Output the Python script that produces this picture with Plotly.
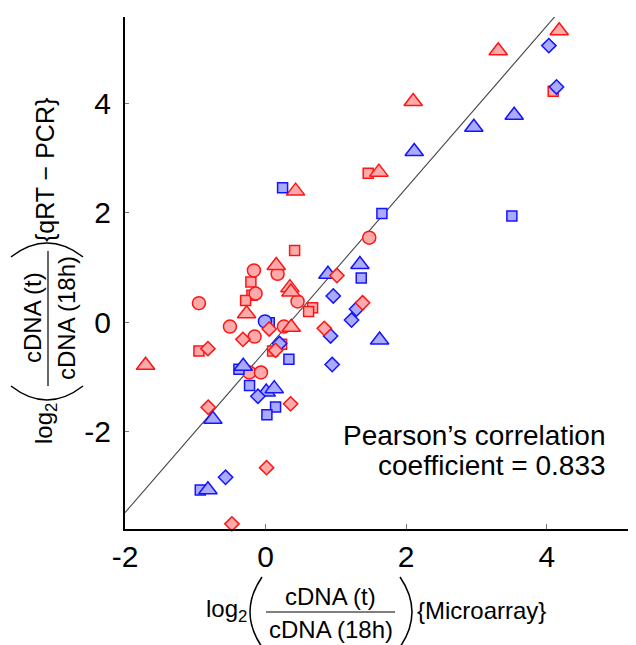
import plotly.graph_objects as go

# ---------------- data ----------------
red_tri_x = [4.177, 3.310, 2.100, 1.612, 0.427, 0.152, 0.346, 0.360, -0.270, 0.365, -1.707]
red_tri_y = [5.338, 4.972, 4.043, 2.748, 2.400, 1.036, 0.632, 0.550, 0.152, -0.095, -0.790]

red_circ_x = [1.475, -0.166, 0.171, -0.142, -0.948, 0.455, -0.507, -0.156, 0.261, -0.232, -0.066]
red_circ_y = [1.548, 0.948, 0.884, 0.524, 0.347, 0.379, -0.082, -0.265, -0.082, -0.922, -0.922]

red_sq_x = [4.092, 1.460, 0.413, -0.209, -0.194, -0.284, 0.669, 0.612, -0.948, 0.228, 0.100]
red_sq_y = [4.232, 2.729, 1.314, 0.733, 0.493, 0.398, 0.265, 0.196, -0.531, -0.404, -0.531]

red_dia_x = [1.015, 1.380, 0.835, 0.052, -0.322, -0.820, 0.142, -0.816, 0.356, 0.014, -0.479]
red_dia_y = [0.853, 0.354, -0.114, -0.126, -0.316, -0.486, -0.518, -1.560, -1.497, -2.666, -3.696]

blue_tri_x = [2.115, 2.963, 3.537, 1.342, 0.887, 1.622, -0.318, 0.009, 0.123, -0.749, -0.820]
blue_tri_y = [3.127, 3.569, 3.790, 1.055, 0.878, -0.328, -0.809, -1.282, -1.219, -1.781, -3.070]

blue_sq_x = [0.242, 1.655, 3.504, 1.361, 0.052, 0.332, -0.379, -0.228, 0.142, 0.019, -0.929]
blue_sq_y = [2.464, 1.990, 1.946, 0.809, -0.013, -0.682, -0.865, -1.162, -1.554, -1.699, -3.076]

blue_dia_x = [4.030, 4.139, 0.963, 1.294, 1.223, 0.925, 0.948, 0.199, -0.109, -0.569]
blue_dia_y = [5.066, 4.308, 0.480, 0.240, 0.038, -0.253, -0.777, -0.392, -1.358, -2.843]

blue_circ_x = [-0.009]
blue_circ_y = [0.013]

fit_slope = 1.486
fit_intercept = -0.518
fit_x_ends = [-2.0, 4.15]

x_ticks = [-2, 0, 2, 4]
x_tick_text = ["-2", "0", "2", "4"]
y_ticks = [-2, 0, 2, 4]
y_tick_text = ["-2", "0", "2", "4"]

x_range = [-2.0, 5.27]
y_range = [-3.79, 5.59]

# ---------------- styling ----------------
FONT = "Liberation Sans, Arial, Helvetica, sans-serif"
RED_EDGE = "rgb(255,20,20)"
RED_FILL = "rgb(255,170,170)"
BLUE_EDGE = "rgb(20,20,255)"
BLUE_FILL = "rgb(170,170,255)"

OFF = 8  # page body margin
W, H = 628, 637
PL, PT, PW, PH = 125 - OFF, 17 - OFF, 511, 512


def px(x):
    # screen pixel -> paper fraction
    return (x - OFF - PL) / PW


def py(y):
    return (PT + PH - (y - OFF)) / PH


fig = go.Figure()

fig.add_trace(go.Scatter(
    x=fit_x_ends,
    y=[fit_slope * v + fit_intercept for v in fit_x_ends],
    mode="lines", line=dict(color="rgb(70,70,70)", width=1.1),
    hoverinfo="skip", showlegend=False, cliponaxis=False))


def add(xs, ys, symbol, size, edge, fill):
    fig.add_trace(go.Scatter(
        x=xs, y=ys, mode="markers", showlegend=False, cliponaxis=False,
        marker=dict(symbol=symbol, size=size, color=fill,
                    line=dict(color=edge, width=1.5))))


add(red_sq_x, red_sq_y, "square", 10, RED_EDGE, RED_FILL)
add(red_circ_x, red_circ_y, "circle", 13, RED_EDGE, RED_FILL)
add(red_tri_x, red_tri_y, "triangle-up", 16, RED_EDGE, RED_FILL)
add(blue_sq_x, blue_sq_y, "square", 10, BLUE_EDGE, BLUE_FILL)
add(blue_circ_x, blue_circ_y, "circle", 13, BLUE_EDGE, BLUE_FILL)
add(blue_tri_x, blue_tri_y, "triangle-up", 16, BLUE_EDGE, BLUE_FILL)
add(blue_dia_x, blue_dia_y, "diamond", 11, BLUE_EDGE, BLUE_FILL)
add(red_dia_x, red_dia_y, "diamond", 11, RED_EDGE, RED_FILL)

annotations = []


def txt(text, x, y, size, angle=0, xanchor="center"):
    annotations.append(dict(
        text=text, x=px(x), y=py(y), xref="paper", yref="paper",
        xanchor=xanchor, yanchor="middle", showarrow=False,
        textangle=angle, font=dict(family=FONT, size=size, color="black")))


# Pearson text
txt("Pearson’s correlation", 608, 435, 28, xanchor="right")
txt("coefficient = 0.833", 608, 465, 28, xanchor="right")

# x-axis title pieces
txt("log<sub>2</sub>", 226, 610, 24)
txt("cDNA (t)", 330, 596, 24)
txt("cDNA (18h)", 331, 629, 24)
txt("{Microarray}", 481, 610, 24)

# y-axis title pieces (rotated)
txt("log<sub>2</sub>", 45, 424, 24, angle=-90)
txt("cDNA (t)", 32, 318, 24, angle=-90)
txt("cDNA (18h)", 66, 318, 24, angle=-90)
txt("{qRT − PCR}", 45, 170, 25, angle=-90)

shapes = []
lc = dict(color="black", width=1.5)
# x title fraction bar and parentheses
shapes.append(dict(type="line", xref="paper", yref="paper",
                   x0=px(266), x1=px(395), y0=py(612), y1=py(612),
                   line=dict(color="black", width=1.2)))
shapes.append(dict(type="path", xref="paper", yref="paper",
                   path=f"M{px(262)},{py(577)} Q{px(238)},{py(612)} {px(262)},{py(647)}",
                   line=lc))
shapes.append(dict(type="path", xref="paper", yref="paper",
                   path=f"M{px(400)},{py(577)} Q{px(424)},{py(612)} {px(400)},{py(647)}",
                   line=lc))
# y title fraction bar and parentheses
shapes.append(dict(type="line", xref="paper", yref="paper",
                   x0=px(48), x1=px(48), y0=py(251), y1=py(386),
                   line=dict(color="black", width=1.2)))
shapes.append(dict(type="path", xref="paper", yref="paper",
                   path=f"M{px(11)},{py(257)} Q{px(47)},{py(229)} {px(83)},{py(257)}",
                   line=lc))
shapes.append(dict(type="path", xref="paper", yref="paper",
                   path=f"M{px(11)},{py(386)} Q{px(47)},{py(414)} {px(83)},{py(386)}",
                   line=lc))

fig.update_layout(
    width=W, height=H,
    margin=dict(l=PL, r=W - PL - PW, t=PT, b=H - PT - PH, pad=0),
    paper_bgcolor="white", plot_bgcolor="white",
    font=dict(family=FONT, color="black"),
    annotations=annotations, shapes=shapes,
    xaxis=dict(range=x_range, tickvals=x_ticks, ticktext=x_tick_text,
               showgrid=False, zeroline=False, showline=True,
               linecolor="black", linewidth=2, ticks="inside", ticklen=5,
               tickwidth=1, tickcolor="rgb(120,120,120)",
               tickfont=dict(family=FONT, size=30, color="black")),
    yaxis=dict(range=y_range, tickvals=y_ticks, ticktext=y_tick_text,
               showgrid=False, zeroline=False, showline=True,
               linecolor="black", linewidth=2, ticks="inside", ticklen=4,
               tickwidth=1, tickcolor="rgb(120,120,120)",
               ticklabelstandoff=6,
               tickfont=dict(family=FONT, size=30, color="black")),
)

fig.write_html("out.html")
